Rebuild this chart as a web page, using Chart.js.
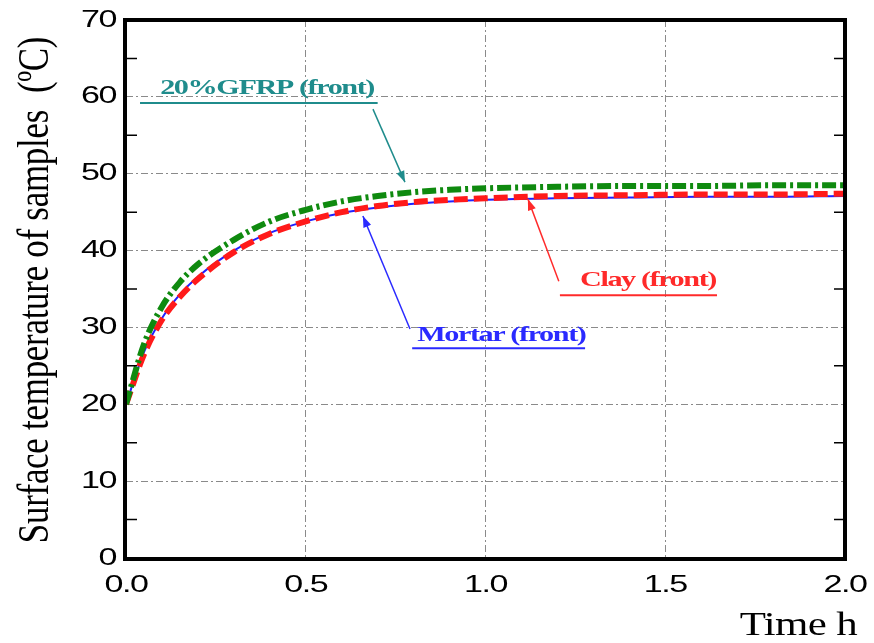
<!DOCTYPE html>
<html>
<head>
<meta charset="utf-8">
<script src="https://cdn.jsdelivr.net/npm/chart.js@4/dist/chart.umd.min.js"></script>
<style>
  html, body { margin: 0; padding: 0; background: #fff; }
  #wrap { width: 874px; height: 643px; position: relative; }
</style>
</head>
<body>
<div id="wrap"><canvas id="chart" width="874" height="643"></canvas></div>
<script>
// time (h)
const times = [0, 0.05, 0.1, 0.15, 0.2, 0.3, 0.4, 0.5, 0.6, 0.7, 0.8, 0.9, 1.0, 1.2, 1.4, 1.6, 1.8, 2.0];
// surface temperature (°C)
const gfrpFront   = [20, 27.8, 32.7, 35.9, 38.2, 41.4, 43.8, 45.3, 46.4, 47.1, 47.6, 47.9, 48.1, 48.3, 48.4, 48.4, 48.5, 48.5];
const clayFront   = [20, 26.5, 31.0, 34.0, 36.3, 39.8, 42.2, 43.8, 45.0, 45.8, 46.3, 46.6, 46.8, 47.1, 47.2, 47.3, 47.3, 47.4];
const mortarFront = [20, 26.8, 31.2, 34.3, 36.6, 40.0, 42.3, 43.8, 44.9, 45.6, 46.1, 46.4, 46.6, 46.8, 46.9, 47.0, 47.0, 47.1];
const yTicks = [0, 10, 20, 30, 40, 50, 60, 70];
const xTicks = [0, 0.5, 1.0, 1.5, 2.0];

const toXY = (arr) => arr.map((v, i) => ({ x: times[i], y: v }));

const SX = 1.42; // the original figure is stretched sideways
const GRID_DASH = [7, 3, 2, 3];

// draw text stretched horizontally, with tight spacing
function stretchText(ctx, text, px, py, align, font, sx, spacing = "-1px") {
  ctx.save();
  ctx.font = font;
  ctx.letterSpacing = spacing;
  const w = ctx.measureText(text).width * sx;
  let left = px;
  if (align === "center") left = px - w / 2;
  if (align === "right") left = px - w;
  ctx.translate(left, py);
  ctx.scale(sx, 1);
  ctx.textAlign = "left";
  ctx.fillText(text, 0, 0);
  ctx.restore();
}

// -------------------------------
// labels with arrows (data coordinates)
// -------------------------------
const labels = [
  { text: "20%GFRP (front)", color: "#1f8c8c", tx: 0.095, ty: 60.4, ux0: 0.039, ux1: 0.70, uy: 59.2, ax: 0.687, ay: 58.4, bx: 0.776, by: 48.9 },
  { text: "Clay (front)", color: "#ff2a2a", tx: 1.263, ty: 35.4, ux0: 1.207, ux1: 1.644, uy: 34.2, ax: 1.204, ay: 36.0, bx: 1.118, by: 46.7 },
  { text: "Mortar (front)", color: "#2a2aff", tx: 0.81, ty: 28.2, ux0: 0.796, ux1: 1.277, uy: 27.3, ax: 0.79, ay: 29.8, bx: 0.659, by: 44.5 }
];

const decor = {
  id: "decor",
  afterDatasetsDraw(chart) {
    const { ctx, chartArea: a, scales: { x, y } } = chart;
    ctx.save();
    // minor ticks every 5 on left and right
    ctx.strokeStyle = "#000";
    ctx.lineWidth = 1.5;
    for (let v = 5; v < 70; v += 10) {
      const py = y.getPixelForValue(v);
      ctx.beginPath();
      ctx.moveTo(a.left, py); ctx.lineTo(a.left + 11, py);
      ctx.moveTo(a.right, py); ctx.lineTo(a.right - 11, py);
      ctx.stroke();
    }
    // frame
    ctx.lineWidth = 4;
    ctx.strokeRect(a.left - 1, a.top, a.right - a.left + 1, a.bottom - a.top + 1);

    // tick labels
    ctx.fillStyle = "#000";
    ctx.textBaseline = "middle";
    const tickFont = "24px 'Liberation Sans', Arial, sans-serif";
    yTicks.forEach((v) => {
      stretchText(ctx, String(v), a.left - 10, y.getPixelForValue(v), "right", tickFont, SX);
    });
    ctx.textBaseline = "alphabetic";
    xTicks.forEach((v) => {
      stretchText(ctx, v.toFixed(1), x.getPixelForValue(v), 592, "center", tickFont, SX);
    });

    // axis titles
    const serif = "'Liberation Serif', 'DejaVu Serif', serif";
    stretchText(ctx, "Time h", 857, 635, "right", "33px " + serif, 1.3, "-0.5px");
    ctx.save();
    ctx.font = "35px " + serif;
    ctx.letterSpacing = "-0.3px";
    const yt = "Surface temperature of samples  (ºC)";
    ctx.translate(48, 290);
    ctx.rotate(-Math.PI / 2);
    ctx.scale(1, 1.25);
    ctx.textAlign = "center";
    ctx.textBaseline = "alphabetic";
    ctx.fillText(yt, 0, 0);
    ctx.restore();

    labels.forEach((l) => {
      ctx.fillStyle = l.color;
      ctx.strokeStyle = l.color;
      ctx.textBaseline = "alphabetic";
      stretchText(ctx, l.text, x.getPixelForValue(l.tx), y.getPixelForValue(l.ty), "left",
        "bold 21px " + serif, 1.44);
      // underline
      ctx.lineWidth = 2;
      const uy = y.getPixelForValue(l.uy);
      ctx.beginPath();
      ctx.moveTo(x.getPixelForValue(l.ux0), uy);
      ctx.lineTo(x.getPixelForValue(l.ux1), uy);
      ctx.stroke();
      // arrow
      const x0 = x.getPixelForValue(l.ax), y0 = y.getPixelForValue(l.ay);
      const x1 = x.getPixelForValue(l.bx), y1 = y.getPixelForValue(l.by);
      ctx.lineWidth = 1.5;
      ctx.beginPath();
      ctx.moveTo(x0, y0); ctx.lineTo(x1, y1);
      ctx.stroke();
      const ang = Math.atan2(y1 - y0, x1 - x0);
      const len = 12, wid = 0.35;
      ctx.beginPath();
      ctx.moveTo(x1, y1);
      ctx.lineTo(x1 - len * Math.cos(ang - wid), y1 - len * Math.sin(ang - wid));
      ctx.lineTo(x1 - len * Math.cos(ang + wid), y1 - len * Math.sin(ang + wid));
      ctx.closePath();
      ctx.fill();
    });
    ctx.restore();
  }
};

new Chart(document.getElementById("chart").getContext("2d"), {
  type: "line",
  data: {
    datasets: [
      {
        label: "Mortar (front)",
        data: toXY(mortarFront),
        borderColor: "#2020ff",
        borderWidth: 2,
        order: 3
      },
      {
        label: "Clay (front)",
        data: toXY(clayFront),
        borderColor: "#ff1a1a",
        borderWidth: 6,
        borderDash: [14, 6],
        order: 2
      },
      {
        label: "20%GFRP (front)",
        data: toXY(gfrpFront),
        borderColor: "#0f8a0f",
        borderWidth: 6,
        borderDash: [14, 4, 3, 4],
        order: 1
      }
    ]
  },
  options: {
    responsive: false,
    animation: false,
    layout: { padding: { left: 16, right: 29, top: 20, bottom: 0 } },
    elements: {
      point: { radius: 0 },
      line: { tension: 0.4, cubicInterpolationMode: "monotone", fill: false }
    },
    plugins: { legend: { display: false }, tooltip: { enabled: false } },
    scales: {
      x: {
        type: "linear",
        min: 0,
        max: 2,
        afterBuildTicks: (s) => { s.ticks = xTicks.map((v) => ({ value: v })); },
        afterFit: (s) => { s.height = 85; },
        border: { display: false, dash: GRID_DASH },
        grid: { color: "#8a8a8a", lineWidth: 1, drawTicks: false },
        ticks: { display: false }
      },
      y: {
        min: 0,
        max: 70,
        afterBuildTicks: (s) => { s.ticks = yTicks.map((v) => ({ value: v })); },
        afterFit: (s) => { s.width = 110; },
        border: { display: false, dash: GRID_DASH },
        grid: { color: "#8a8a8a", lineWidth: 1, drawTicks: false },
        ticks: { display: false }
      }
    }
  },
  plugins: [decor]
});
</script>
</body>
</html>
